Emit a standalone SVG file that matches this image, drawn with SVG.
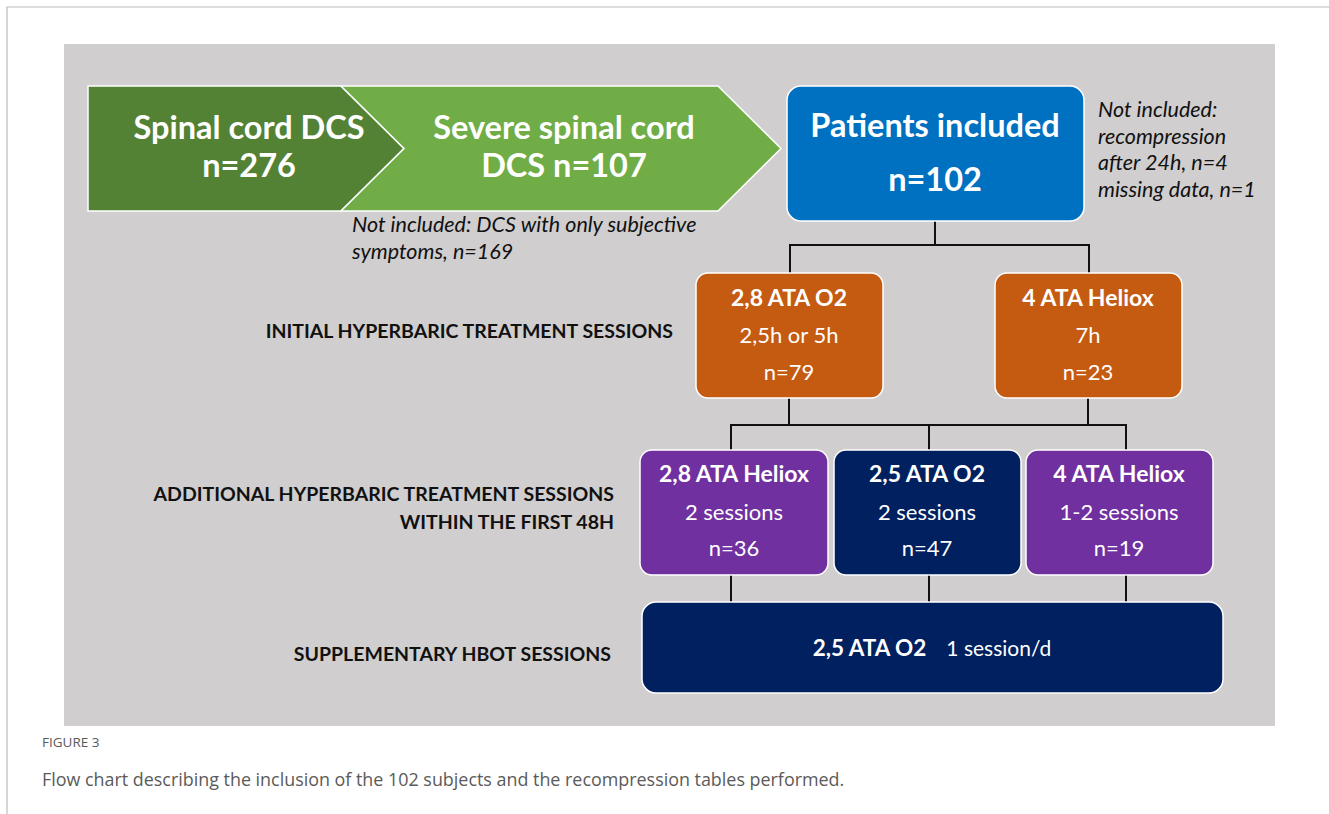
<svg xmlns="http://www.w3.org/2000/svg" width="1329" height="814" viewBox="0 0 1329 814">
<style>
.w{fill:#fff;font-family:Lato,"Liberation Sans",sans-serif;text-anchor:middle}
.b{font-weight:bold;font-size:23px}
.big{font-size:32.5px;font-weight:bold}
.mid{font-size:22px}
.note{font-family:Lato,"Liberation Sans",sans-serif;font-style:italic;font-size:21.5px;fill:#111}
.lab{font-family:Lato,"Liberation Sans",sans-serif;font-weight:bold;font-size:19.5px;fill:#111;text-anchor:end}
.box{stroke:#fff;stroke-width:1.5}
.con{stroke:#111;stroke-width:2;fill:none}
</style>
<rect x="0" y="0" width="1329" height="814" fill="#fff"/>
<path d="M7,814 V7 H1329" fill="none" stroke="#bbb" stroke-width="1.2"/>
<rect x="64" y="44" width="1211" height="682" fill="#D0CECE"/>

<g id="connectors" class="con">
<path d="M935,221 V245 M790,273 V245 H1089 V273"/>
<path d="M789,398 V425 M1088,398 V425 M731,450 V425 H1126 V450 M929,425 V450"/>
<path d="M731,575 V602 M929,575 V602 M1126,575 V602"/>
</g>

<g id="n_spinal">
<polygon class="box" points="88,86 341,86 404,148.5 341,211 88,211" fill="#548235"/>
<text class="w big" x="249" y="139">Spinal cord DCS</text>
<text class="w big" x="249" y="177">n=276</text>
</g>
<g id="n_severe">
<polygon class="box" points="341,86 718,86 781,148.5 718,211 341,211 404,148.5" fill="#70AD47"/>
<text class="w big" x="564" y="139">Severe spinal cord</text>
<text class="w big" x="564" y="177">DCS n=107</text>
</g>
<g id="note1">
<text class="note" x="352" y="232">Not included: DCS with only subjective</text>
<text class="note" x="352" y="259">symptoms, n=169</text>
</g>
<g id="n_included">
<rect class="box" x="787" y="86" width="297" height="135" rx="14" fill="#0070C0"/>
<text class="w big" x="935" y="137">Patients included</text>
<text class="w big" x="935" y="191">n=102</text>
</g>
<g id="note2">
<text class="note" x="1098" y="117">Not included:</text>
<text class="note" x="1098" y="144">recompression</text>
<text class="note" x="1098" y="170">after 24h, n=4</text>
<text class="note" x="1098" y="197">missing data, n=1</text>
</g>

<g id="labels">
<text class="lab" x="673" y="338">INITIAL HYPERBARIC TREATMENT SESSIONS</text>
<text class="lab" x="614" y="501">ADDITIONAL HYPERBARIC TREATMENT SESSIONS</text>
<text class="lab" x="614" y="529">WITHIN THE FIRST 48H</text>
<text class="lab" x="611" y="661">SUPPLEMENTARY HBOT SESSIONS</text>
</g>

<g id="n_28o2">
<rect class="box" x="696" y="273" width="187" height="125" rx="12" fill="#C55A11"/>
<text class="w b" x="789" y="306">2,8 ATA O2</text>
<text class="w mid" x="789" y="343">2,5h or 5h</text>
<text class="w mid" x="789" y="380">n=79</text>
</g>
<g id="n_4heliox">
<rect class="box" x="995" y="273" width="187" height="125" rx="12" fill="#C55A11"/>
<text class="w b" x="1088" y="306">4 ATA Heliox</text>
<text class="w mid" x="1088" y="343">7h</text>
<text class="w mid" x="1088" y="380">n=23</text>
</g>

<g id="n_28heliox">
<rect class="box" x="640" y="450" width="188" height="125" rx="12" fill="#7030A0"/>
<text class="w b" x="734" y="482">2,8 ATA Heliox</text>
<text class="w mid" x="734" y="520">2 sessions</text>
<text class="w mid" x="734" y="556">n=36</text>
</g>
<g id="n_25o2">
<rect class="box" x="834" y="450" width="187" height="125" rx="12" fill="#002060"/>
<text class="w b" x="927" y="482">2,5 ATA O2</text>
<text class="w mid" x="927" y="520">2 sessions</text>
<text class="w mid" x="927" y="556">n=47</text>
</g>
<g id="n_4heliox2">
<rect class="box" x="1026" y="450" width="187" height="125" rx="12" fill="#7030A0"/>
<text class="w b" x="1119" y="482">4 ATA Heliox</text>
<text class="w mid" x="1119" y="520">1-2 sessions</text>
<text class="w mid" x="1119" y="556">n=19</text>
</g>

<g id="n_supp">
<rect class="box" x="642" y="602" width="581" height="91" rx="14" fill="#002060"/>
<text class="w" x="932" y="656"><tspan font-weight="bold" font-size="22.5">2,5 ATA O2</tspan><tspan font-size="21" dx="20">1 session/d</tspan></text>
</g>

<g id="caption" font-family="'Open Sans',Lato,sans-serif" fill="#5a5a5a">
<text x="42" y="747" font-size="13.5">FIGURE 3</text>
<text x="42" y="786" font-size="17.9">Flow chart describing the inclusion of the 102 subjects and the recompression tables performed.</text>
</g>
</svg>
